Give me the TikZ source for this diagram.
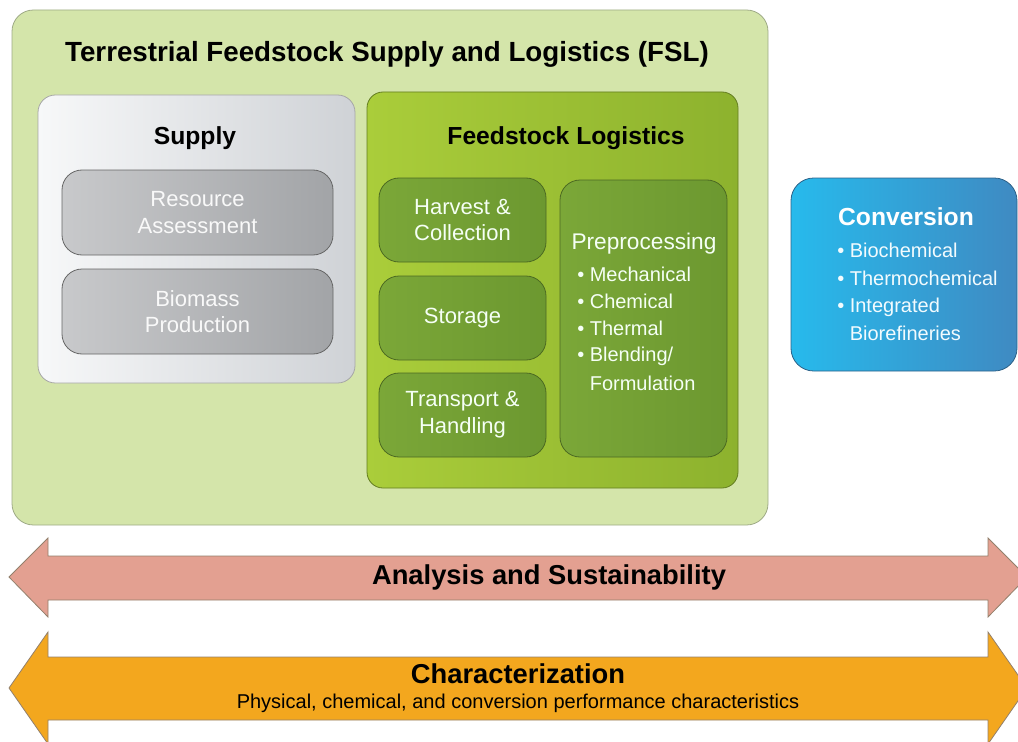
\documentclass[tikz,border=0pt]{standalone}
\usepackage{fontspec}
\setmainfont{Liberation Sans}
\definecolor{fslfill}{HTML}{D4E5AA}
\definecolor{fslline}{HTML}{9EAA86}
\definecolor{suplight}{HTML}{F7F8F9}
\definecolor{supdark}{HTML}{CFD2D6}
\definecolor{greylight}{HTML}{C8C9CB}
\definecolor{greydark}{HTML}{A2A4A7}
\definecolor{fllight}{HTML}{AACD3A}
\definecolor{fldark}{HTML}{8DB22E}
\definecolor{stepgreen}{HTML}{7BA738}
\definecolor{stepgreendk}{HTML}{6C9830}
\definecolor{convlight}{HTML}{27BAEC}
\definecolor{convdark}{HTML}{3F8AC2}
\definecolor{analysisfill}{HTML}{E3A091}
\definecolor{charfill}{HTML}{F3A71E}

\begin{document}
\begin{tikzpicture}[x=0.75pt,y=-0.75pt,
   outerbox/.style={draw=fslline,fill=fslfill,line width=0.6pt,rounded corners=16pt},
   supplybox/.style={draw=gray!70,left color=suplight,right color=supdark,line width=0.6pt,rounded corners=13pt},
   greybox/.style={draw=gray!80!black,left color=greylight,right color=greydark,line width=0.6pt,rounded corners=15pt,
      text=white!95!gray,align=center,font=\fontsize{16.5}{20}\selectfont},
   logibox/.style={draw=fldark!70!black,left color=fllight,right color=fldark,line width=0.6pt,rounded corners=12pt},
   stepbox/.style={draw=stepgreendk!70!black,left color=stepgreen,right color=stepgreendk,line width=0.6pt,rounded corners=15pt,
      text=white!96!green,align=center,font=\fontsize{16.5}{20}\selectfont},
   convbox/.style={draw=convdark!70!black,left color=convlight,right color=convdark,line width=0.6pt,rounded corners=17pt},
   heading/.style={font=\bfseries\fontsize{18.5}{22}\selectfont},
   bigarrow/.style={draw=gray!70!brown,line width=0.6pt,line join=miter}]
   \useasboundingbox (0,0) rectangle (1018,742);

   \path (390,267.5) node[outerbox,minimum width=567pt,minimum height=386.25pt] (FSL) {};
   \path (387,54) node[font=\bfseries\fontsize{20.8}{24}\selectfont] (FSLt)
   {Terrestrial Feedstock Supply and Logistics (FSL)};

   \path (196.5,239) node[supplybox,minimum width=237.75pt,minimum height=216pt] (Sup) {};
   \path (195,138) node[heading] (Supt) {Supply};
   \path (197.5,212.5) node[greybox,minimum width=203.25pt,minimum height=63.75pt] (Res)
   {Resource\\Assessment};
   \path (197.5,311.5) node[greybox,minimum width=203.25pt,minimum height=63.75pt] (Bio)
   {Biomass\\Production};

   \path (552.5,290) node[logibox,minimum width=278.25pt,minimum height=297pt] (FL) {};
   \path (566,138) node[heading] (FLt) {Feedstock Logistics};
   \path (462.5,220) node[stepbox,minimum width=125.25pt,minimum height=63pt] (Harv)
   {Harvest \&\\Collection};
   \path (462.5,318) node[stepbox,minimum width=125.25pt,minimum height=63pt] (Stor)
   {Storage};
   \path (462.5,415) node[stepbox,minimum width=125.25pt,minimum height=63pt] (Trans)
   {Transport \&\\Handling};
   \path (643.5,318.5) node[stepbox,minimum width=125.25pt,minimum height=207.75pt] (Pre) {};
   \path (644,244) node[text=white!96!green,font=\fontsize{17}{20}\selectfont] (Pret) {Preprocessing};
   \foreach \txt/\yy [count=\i] in {{\textbullet\ Mechanical}/274,{\textbullet\ Chemical}/301,
      {\textbullet\ Thermal}/328,{\textbullet\ Blending/}/356,{\phantom{\textbullet\ }Formulation}/383}
      \path (577,\yy) node[anchor=west,inner sep=0pt,text=white!96!green,font=\fontsize{15}{18}\selectfont] (Pre\i) {\txt};

   \path (904,274.5) node[convbox,minimum width=169.5pt,minimum height=144.75pt] (Conv) {};
   \path (906,217) node[text=white,font=\bfseries\fontsize{18.5}{22}\selectfont] (Convt) {Conversion};
   \foreach \txt/\yy [count=\i] in {{\textbullet\ Biochemical}/250,{\textbullet\ Thermochemical}/278,
      {\textbullet\ Integrated}/307,{\phantom{\textbullet\ }Biorefineries}/333}
      \path (837,\yy) node[anchor=west,inner sep=0pt,text=white!95!cyan,font=\fontsize{15}{18}\selectfont] (Conv\i) {\txt};

   \draw[bigarrow,fill=analysisfill] (9,577) -- (48,538) -- (48,556) -- (988,556) -- (988,538)
      -- (1027,577) -- (988,617) -- (988,600) -- (48,600) -- (48,617) -- cycle;
   \path (549,577) node[font=\bfseries\fontsize{20.5}{24}\selectfont] (Ana) {Analysis and Sustainability};

   \draw[bigarrow,fill=charfill] (9,688) -- (48,632) -- (48,657) -- (988,657) -- (988,632)
      -- (1027,688) -- (988,744) -- (988,720) -- (48,720) -- (48,744) -- cycle;
   \path (518,674) node[font=\bfseries\fontsize{20.5}{24}\selectfont] (Char) {Characterization};
   \path (518,703) node[font=\fontsize{15}{18}\selectfont] (Chars)
   {Physical, chemical, and conversion performance characteristics};
\end{tikzpicture}
\end{document}
